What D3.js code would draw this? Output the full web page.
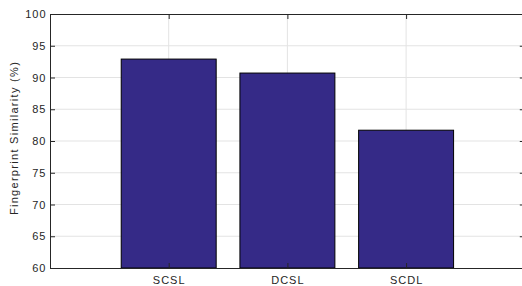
<!DOCTYPE html>
<html>
<head>
<meta charset="utf-8">
<script src="https://cdn.jsdelivr.net/npm/d3@7"></script>
<style>
  body { margin: 0; background: #fff; }
  svg { display: block; font-family: "Liberation Sans", Arial, sans-serif; }
</style>
</head>
<body>
<svg id="canvas"></svg>
<script>
const categories = ["SCSL", "DCSL", "SCDL"];
const similarity = [92.9, 90.7, 81.7];
const yTicks = [60, 65, 70, 75, 80, 85, 90, 95, 100];

const width = 522,
  height = 286,
  padLeft = 50,
  padTop = 14,
  padBottom = 268,
  padRight = 524.8;

const canvas = d3.select("#canvas").attr("width", width).attr("height", height);

// MATLAB style: x positions 1..3, xlim [0, 4]
const xScale = d3.scaleLinear().domain([0, 4]).range([padLeft, padRight]);
const yScale = d3.scaleLinear().domain([60, 100]).range([padBottom, padTop]);

const axisColor = "#262626";
const gridColor = "#e3e3e3";

// grid
const grid = canvas.append("g");
grid.selectAll(".hg").data(yTicks.slice(1, -1)).join("line")
  .attr("x1", padLeft).attr("x2", padRight)
  .attr("y1", d => yScale(d)).attr("y2", d => yScale(d))
  .attr("stroke", gridColor).attr("stroke-width", 1);
grid.selectAll(".vg").data(categories).join("line")
  .attr("x1", (d, i) => xScale(i + 1)).attr("x2", (d, i) => xScale(i + 1))
  .attr("y1", padTop).attr("y2", padBottom)
  .attr("stroke", gridColor).attr("stroke-width", 1);

// bars
const barW = xScale(0.8) - xScale(0);
canvas.append("g").selectAll("rect").data(similarity).join("rect")
  .attr("x", (d, i) => xScale(i + 1) - barW / 2)
  .attr("y", d => yScale(d))
  .attr("width", barW)
  .attr("height", d => padBottom - yScale(d))
  .attr("fill", "#352a87")
  .attr("stroke", "#000")
  .attr("stroke-width", 1);

// axes (inward ticks)
const yAxis = d3.axisLeft(yScale).tickValues(yTicks).tickSizeInner(-5).tickSizeOuter(0).tickPadding(3.5);
const gy = canvas.append("g").attr("transform", `translate(${padLeft},0)`).call(yAxis);

const yAxisR = d3.axisRight(yScale).tickValues(yTicks).tickSizeInner(-5).tickSizeOuter(0).tickFormat("");
const gyr = canvas.append("g").attr("transform", `translate(${padRight},0)`).call(yAxisR);

const xAxis = d3.axisBottom(xScale).tickValues([1, 2, 3])
  .tickFormat(d => categories[d - 1]).tickSizeInner(-5).tickSizeOuter(0).tickPadding(8);
const gx = canvas.append("g").attr("transform", `translate(0,${padBottom})`).call(xAxis);

const xAxisT = d3.axisTop(xScale).tickValues([1, 2, 3]).tickSizeInner(-5).tickSizeOuter(0).tickFormat("");
const gxt = canvas.append("g").attr("transform", `translate(0,${padTop})`).call(xAxisT);

[gy, gyr, gx, gxt].forEach(g => {
  g.select(".domain").attr("stroke", axisColor);
  g.selectAll(".tick line").attr("stroke", axisColor);
  g.selectAll(".tick text").attr("fill", axisColor).style("font-size", "11px")
    .style("letter-spacing", "1px")
    .style("font-family", "'Liberation Sans', Arial, sans-serif");
});

canvas.append("text")
  .attr("transform", `translate(17.5,138) rotate(-90)`)
  .attr("text-anchor", "middle")
  .attr("fill", axisColor)
  .style("font-size", "11px")
  .style("letter-spacing", "1.3px")
  .text("Fingerprint Similarity (%)");
</script>
</body>
</html>
